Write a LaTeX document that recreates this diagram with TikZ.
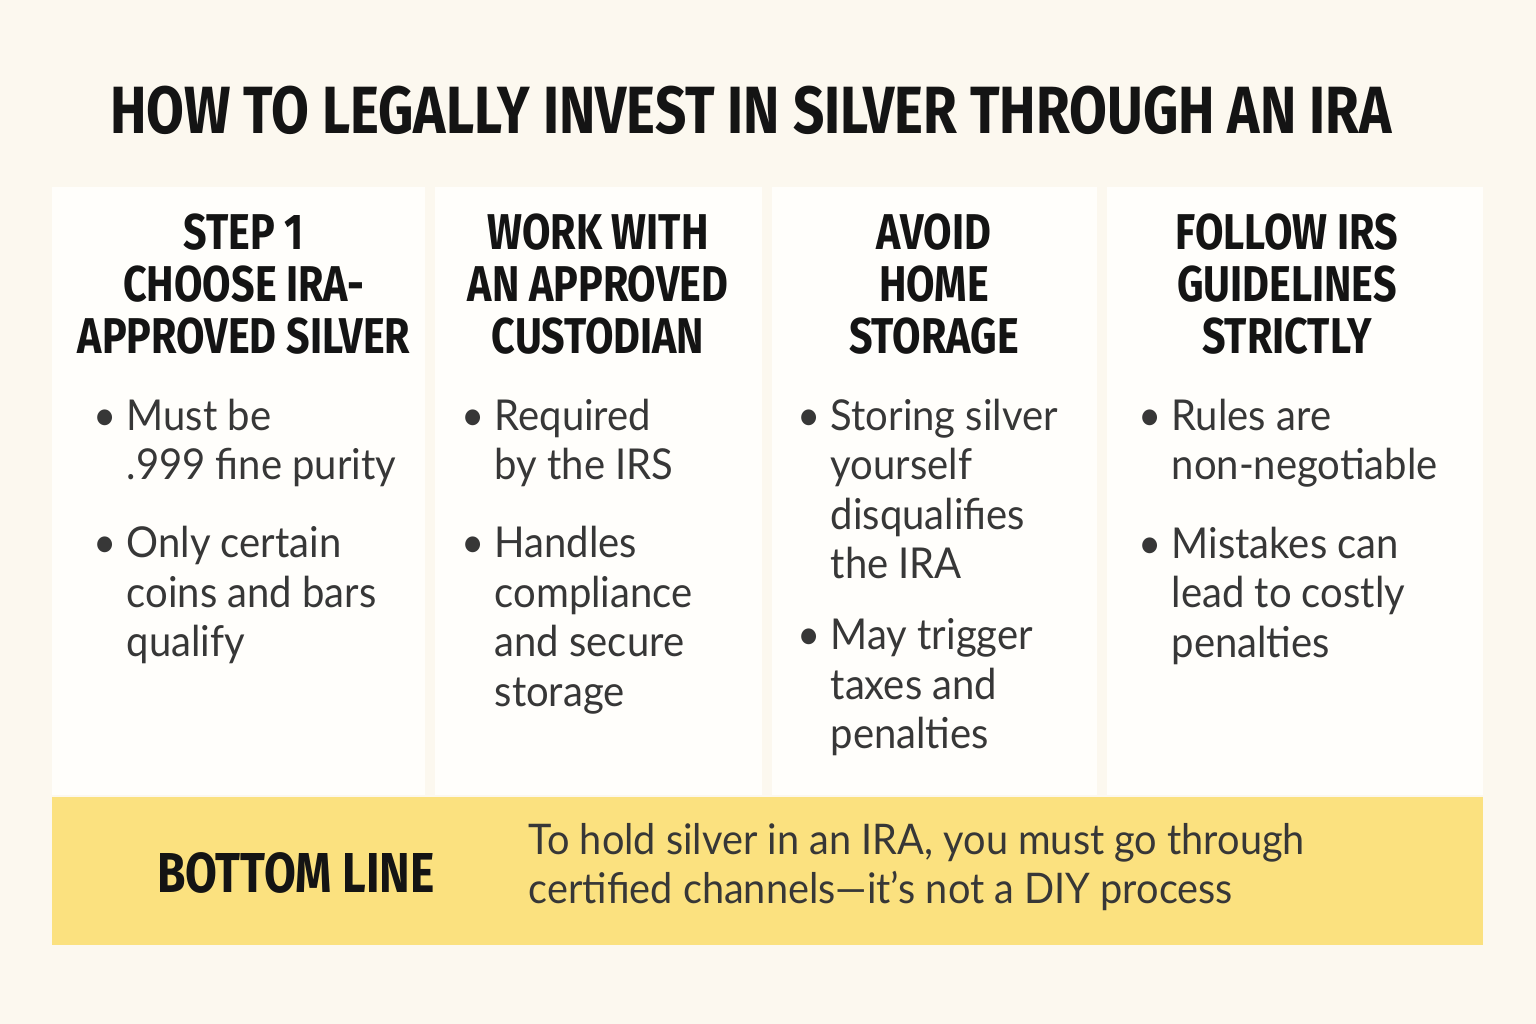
\documentclass[tikz,border=0pt]{standalone}
\usepackage{fontspec}
\setmainfont[FakeStretch=0.94]{Lato}
\newfontfamily\hdfont[FakeStretch=0.82]{Fira Sans}
\usetikzlibrary{positioning}
\definecolor{cream}{HTML}{FCF8EF}
\definecolor{panel}{HTML}{FFFEFB}
\definecolor{barfill}{HTML}{FBE17F}
\definecolor{ink}{HTML}{141414}

\begin{document}
\begin{tikzpicture}[x=0.01cm, y=-0.01cm, node distance=0.38cm,
  hdr/.style={align=center, font=\hdfont\bfseries\fontsize{14.3}{14.8}\selectfont, text=ink, inner sep=0},
  txt/.style={align=left, anchor=north west, font=\fontsize{12.1}{14.1}\selectfont, text=ink!85, inner sep=0},
  dot/.style={anchor=north east, font=\fontsize{12.1}{14.1}\selectfont, text=ink!85, inner sep=0, xshift=-0.09cm},
  pane/.style={fill=panel, draw=none}]
\fill[cream] (0,0) rectangle (1536,1024);
\useasboundingbox (0,0) rectangle (1536,1024);
% title
\node[font=\hdfont\bfseries\fontsize{19}{20}\selectfont, text=ink, inner sep=0] (title) at (751,110) {HOW TO LEGALLY INVEST IN SILVER THROUGH AN IRA};
% panels
\fill[pane] (52,187) rectangle (425,795);
\fill[pane] (435,187) rectangle (762,795);
\fill[pane] (772,187) rectangle (1097,795);
\fill[pane] (1107,187) rectangle (1483,795);
\fill[barfill] (52,797) rectangle (1483,945);
% headers
\node[hdr] (h1) at (244,284) {STEP 1\\CHOOSE IRA-\\APPROVED SILVER};
\node[hdr] (h2) at (598,284) {WORK WITH\\AN APPROVED\\CUSTODIAN};
\node[hdr] (h3) at (934,284) {AVOID\\HOME\\STORAGE};
\node[hdr] (h4) at (1287,284) {FOLLOW IRS\\GUIDELINES\\STRICTLY};
% column 1
\node[txt] (a1) at (126,398) {Must be\\.999 fine purity};
\node[txt, below=of a1.south west, anchor=north west] (a2) {Only certain\\coins and bars\\qualify};
% column 2
\node[txt] (b1) at (494,398) {Required\\by the IRS};
\node[txt, below=of b1.south west, anchor=north west] (b2) {Handles\\compliance\\and secure\\storage};
% column 3
\node[txt] (c1) at (830,398) {Storing silver\\yourself\\disqualifies\\the IRA};
\node[txt, below=of c1.south west, anchor=north west] (c2) {May trigger\\taxes and\\penalties};
% column 4
\node[txt] (d1) at (1171,398) {Rules are\\non-negotiable};
\node[txt, below=of d1.south west, anchor=north west] (d2) {Mistakes can\\lead to costly\\penalties};
% bullets
\foreach \b in {a1,a2,b1,b2,c1,c2,d1,d2}
  \node[dot] (dot-\b) at (\b.north west) {\vphantom{Mb}•};
% bottom line
\node[font=\hdfont\bfseries\fontsize{16}{17}\selectfont, text=ink, inner sep=0] (bl) at (296,873) {BOTTOM LINE};
\node[txt, font=\fontsize{12}{14}\selectfont, anchor=west] (bt) at (528,867) {To hold silver in an IRA, you must go through\\certified channels—it’s not a DIY process};
\end{tikzpicture}
\end{document}
